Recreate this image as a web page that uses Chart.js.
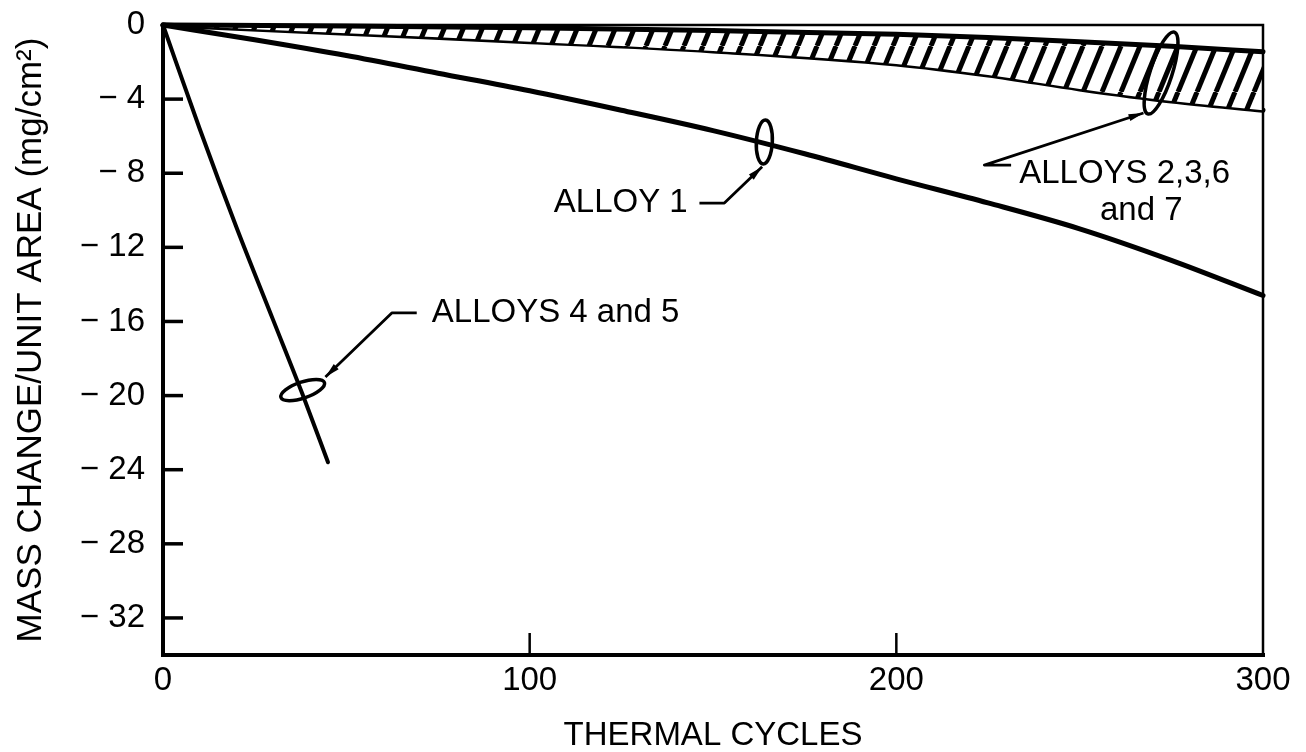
<!DOCTYPE html>
<html><head><meta charset="utf-8">
<script src="https://cdn.jsdelivr.net/npm/chart.js@4.4.0/dist/chart.umd.min.js"></script>
<style>html,body{margin:0;padding:0;background:#fff;}</style>
</head><body>
<canvas id="c" width="1306" height="752"></canvas>
<script>
// ---- data ----
const xTickValues = [0, 100, 200, 300];
const xTickLabels = ['0', '100', '200', '300'];
const yTickValues = [0, -4, -8, -12, -16, -20, -24, -28, -32];
const yTickLabels = ['0', '\u2212 4', '\u2212 8', '\u2212 12', '\u2212 16', '\u2212 20', '\u2212 24', '\u2212 28', '\u2212 32'];

const cyclesBand = [0, 50, 100, 150, 200, 225, 250, 275, 300];
const massBandUpper = [0, -0.05, -0.15, -0.3, -0.5, -0.68, -0.9, -1.15, -1.45];
const massBandLower = [0, -0.45, -0.9, -1.4, -2.1, -2.7, -3.45, -4.1, -4.6];

const cyclesAlloy1 = [0, 25, 50, 75, 100, 125, 150, 175, 200, 225, 250, 275, 300];
const massAlloy1 = [0, -0.8, -1.65, -2.6, -3.55, -4.6, -5.7, -6.95, -8.3, -9.6, -11.0, -12.7, -14.6];

const cyclesAlloy45 = [0, 10, 20, 30, 38, 45];
const massAlloy45 = [0, -5.6, -10.9, -15.9, -19.9, -23.6];

const xTitle = 'THERMAL CYCLES';
const yTitle = 'MASS CHANGE/UNIT AREA (mg/cm\u00B2)';

// ---- annotations (data coordinates) ----
const ellipseMarks = [
  { x: 38.1, y: -19.7, rx: 23, ry: 8, rot: -19 },
  { x: 164.0, y: -6.31, rx: 8, ry: 22, rot: 3 },
  { x: 272.2, y: -2.59, rx: 11, ry: 43, rot: 18 }
];
const arrowPaths = [
  [[69.2, -15.54], [62.4, -15.54], [44.3, -19.0]],
  [[146.3, -9.61], [153.1, -9.61], [163.4, -7.65]],
  [[231.3, -7.56], [224.0, -7.56], [267.4, -4.75]]
];
const labelTexts = ['ALLOYS 4 and 5', 'ALLOY 1', 'ALLOYS 2,3,6', 'and 7'];
const labelPos = [
  { x: 73.3, y: -16.03, align: 'left' },
  { x: 143.1, y: -10.09, align: 'right' },
  { x: 233.5, y: -8.53, align: 'left' },
  { x: 266.8, y: -10.52, align: 'center' }
];

const FONT = '"Liberation Sans", Arial, Helvetica, sans-serif';
const toXY = (xs, ys) => xs.map((x, i) => ({ x: x, y: ys[i] }));

function makeHatch() {
  const w = 19, h = 46;
  const c = document.createElement('canvas');
  c.width = w; c.height = h;
  const g = c.getContext('2d');
  g.fillStyle = '#fff'; g.fillRect(0, 0, w, h);
  g.strokeStyle = '#000'; g.lineWidth = 5;
  for (const dx of [-w, 0, w]) {
    g.beginPath(); g.moveTo(dx, h); g.lineTo(dx + w, 0); g.stroke();
  }
  return g.createPattern(c, 'repeat');
}

const decor = {
  id: 'decor',
  afterDatasetsDraw(chart) {
    const { ctx, chartArea: a, scales: { x, y } } = chart;
    ctx.save();
    ctx.strokeStyle = '#000'; ctx.fillStyle = '#000';
    ctx.lineCap = 'square';
    // frame
    ctx.lineWidth = 4;
    ctx.beginPath(); ctx.moveTo(a.left, a.top); ctx.lineTo(a.left, a.bottom); ctx.lineTo(a.right, a.bottom); ctx.stroke();
    ctx.lineWidth = 2.5;
    ctx.beginPath(); ctx.moveTo(a.left, a.top); ctx.lineTo(a.right, a.top); ctx.lineTo(a.right, a.bottom); ctx.stroke();
    // inward ticks
    ctx.lineWidth = 3.5; ctx.lineCap = 'butt';
    yTickValues.forEach(v => {
      if (v === 0) return;
      const py = y.getPixelForValue(v);
      ctx.beginPath(); ctx.moveTo(a.left, py); ctx.lineTo(a.left + 20, py); ctx.stroke();
    });
    ctx.lineWidth = 2.5;
    xTickValues.forEach(v => {
      if (v === 0 || v === 300) return;
      const px = x.getPixelForValue(v);
      ctx.beginPath(); ctx.moveTo(px, a.bottom); ctx.lineTo(px, a.bottom - 22); ctx.stroke();
    });
    // ellipses
    ctx.lineWidth = 3.5;
    ellipseMarks.forEach(e => {
      ctx.beginPath();
      ctx.ellipse(x.getPixelForValue(e.x), y.getPixelForValue(e.y), e.rx, e.ry, e.rot * Math.PI / 180, 0, Math.PI * 2);
      ctx.stroke();
    });
    // arrows
    ctx.lineWidth = 2.8; ctx.lineJoin = 'round';
    arrowPaths.forEach(p => {
      const pts = p.map(q => [x.getPixelForValue(q[0]), y.getPixelForValue(q[1])]);
      ctx.beginPath();
      pts.forEach((q, i) => i ? ctx.lineTo(q[0], q[1]) : ctx.moveTo(q[0], q[1]));
      ctx.stroke();
      const [tx, ty] = pts[pts.length - 1], [sx, sy] = pts[pts.length - 2];
      const ang = Math.atan2(ty - sy, tx - sx);
      const L = 15, W = 3.5;
      const bx = tx - L * Math.cos(ang), by = ty - L * Math.sin(ang);
      ctx.beginPath();
      ctx.moveTo(tx, ty);
      ctx.lineTo(bx + W * Math.sin(ang), by - W * Math.cos(ang));
      ctx.lineTo(bx - W * Math.sin(ang), by + W * Math.cos(ang));
      ctx.closePath(); ctx.fill();
    });
    // labels
    ctx.font = '33px ' + FONT;
    ctx.textBaseline = 'alphabetic';
    labelTexts.forEach((t, i) => {
      const p = labelPos[i];
      ctx.textAlign = p.align;
      ctx.fillText(t, x.getPixelForValue(p.x), y.getPixelForValue(p.y));
    });
    ctx.restore();
  }
};

const hatch = makeHatch();
const lineBase = { borderColor: '#000', pointRadius: 0, cubicInterpolationMode: 'monotone', clip: false, borderCapStyle: 'round', borderJoinStyle: 'round' };

new Chart(document.getElementById('c'), {
  type: 'line',
  data: {
    datasets: [
      Object.assign({ label: 'Alloys 2,3,6 and 7 (upper)', data: toXY(cyclesBand, massBandUpper), borderWidth: 5, fill: '+1', backgroundColor: hatch }, lineBase),
      Object.assign({ label: 'Alloys 2,3,6 and 7 (lower)', data: toXY(cyclesBand, massBandLower), borderWidth: 5, fill: false }, lineBase),
      Object.assign({ label: 'Alloy 1', data: toXY(cyclesAlloy1, massAlloy1), borderWidth: 5, fill: false }, lineBase),
      Object.assign({ label: 'Alloys 4 and 5', data: toXY(cyclesAlloy45, massAlloy45), borderWidth: 4, fill: false }, lineBase)
    ]
  },
  options: {
    responsive: false,
    animation: false,
    layout: { padding: { left: 0, right: 43, top: 25, bottom: 0 } },
    plugins: { legend: { display: false }, tooltip: { enabled: false } },
    scales: {
      x: {
        type: 'linear', min: 0, max: 300,
        grid: { display: false, drawTicks: false }, border: { display: false },
        afterBuildTicks: s => { s.ticks = xTickValues.map(v => ({ value: v })); },
        ticks: { color: '#000', font: { family: FONT, size: 33 }, padding: 6, maxRotation: 0,
          callback: v => xTickLabels[xTickValues.indexOf(v)] },
        title: { display: true, text: xTitle, color: '#000', font: { family: FONT, size: 33, lineHeight: 1 }, padding: { top: 0, bottom: 0 } },
        afterFit: s => { s.height = 97; s.paddingLeft = 0; s.paddingRight = 0; }
      },
      y: {
        type: 'linear', min: -34, max: 0,
        grid: { display: false, drawTicks: false }, border: { display: false },
        afterBuildTicks: s => { s.ticks = yTickValues.map(v => ({ value: v })); },
        ticks: { color: '#000', font: { family: FONT, size: 33 }, padding: 18,
          callback: v => yTickLabels[yTickValues.indexOf(v)] },
        title: { display: true, text: yTitle, color: '#000', font: { family: FONT, size: 35, lineHeight: 1 }, padding: { top: 14, bottom: 0 } },
        afterFit: s => { s.width = 163; s.paddingTop = 0; s.paddingBottom = 0; }
      }
    }
  },
  plugins: [decor]
});
</script>
</body></html>
